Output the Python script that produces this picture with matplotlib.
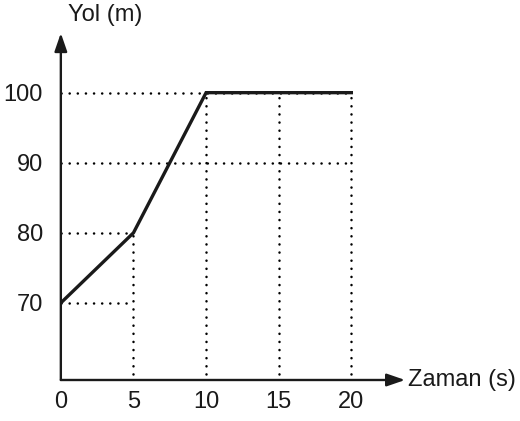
import matplotlib.pyplot as plt

plt.rcParams['font.family'] = ['Liberation Sans', 'DejaVu Sans']

# data
t = [0, 5, 10, 15, 20]
yol = [70, 80, 100, 100, 100]
xticks = [0, 5, 10, 15, 20]
yticks = [70, 80, 90, 100]

fig = plt.figure(figsize=(5.2, 4.21), dpi=100)
ax = fig.add_axes([0.117, 0.0974, 0.662, 0.824])
ax.set_xlim(0, 23.7)
ax.set_ylim(59, 108.5)
for s in ax.spines.values():
    s.set_visible(False)

dot = dict(color='black', lw=1.8, linestyle=(0, (0.05, 3.2)), dash_capstyle='round')
# horizontal guides
ax.plot([0, 5], [70, 70], **dot)
ax.plot([0, 5], [80, 80], **dot)
ax.plot([0, 20], [90, 90], **dot)
ax.plot([0, 20], [100, 100], **dot)
# vertical guides
for x, y in zip(t[1:], yol[1:]):
    ax.plot([x, x], [59.8, y], **dot)

ax.plot(t, yol, color='#1a1a1a', lw=2.4, solid_joinstyle='miter', zorder=5)

# axes with arrows
arrow = dict(arrowstyle='-|>,head_length=1.1,head_width=0.38', lw=1.7, color='#1a1a1a',
             shrinkA=0, shrinkB=0)
ax.annotate('', xy=(0, 1), xytext=(0, 0), xycoords='axes fraction', arrowprops=arrow)
ax.annotate('', xy=(1, 0), xytext=(0, 0), xycoords='axes fraction', arrowprops=arrow)

ax.set_xticks(xticks)
ax.set_yticks(yticks)
ax.tick_params(length=0, labelsize=17, colors='#1a1a1a')
ax.tick_params(axis='x', pad=8)
ax.tick_params(axis='y', pad=13)

ax.text(0.02, 1.052, 'Yol (m)', transform=ax.transAxes, fontsize=17, ha='left', va='center', color='#1a1a1a')
ax.text(1.008, 0.0, 'Zaman (s)', transform=ax.transAxes, fontsize=17, ha='left', va='center', color='#1a1a1a')

fig.savefig('out.png', dpi=100)
